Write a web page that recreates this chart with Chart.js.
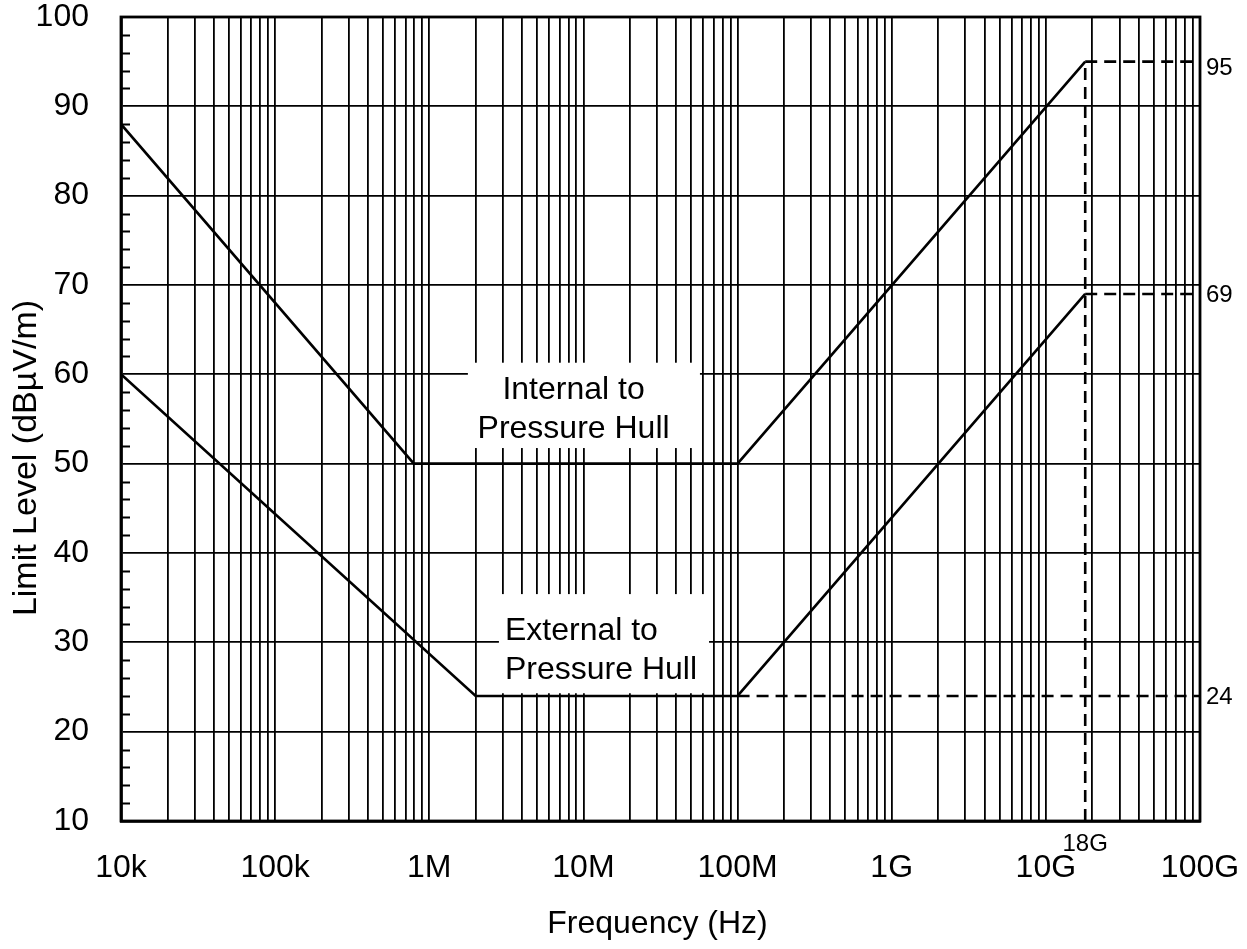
<!DOCTYPE html>
<html>
<head>
<meta charset="utf-8">
<script src="https://cdn.jsdelivr.net/npm/chart.js@4.4.1/dist/chart.umd.min.js"></script>
<style>
html, body { margin: 0; padding: 0; background: #fff; }
#wrap { width: 1247px; height: 949px; }
</style>
</head>
<body>
<div id="wrap"><canvas id="chart" width="1247" height="949"></canvas></div>
<script>
const FONT = "'Liberation Sans', Arial, Helvetica, sans-serif";

// x axis (log): decades, their labels, and the minor grid multipliers
const xDecades = [1e4, 1e5, 1e6, 1e7, 1e8, 1e9, 1e10, 1e11];
const xDecadeLabels = ['10k', '100k', '1M', '10M', '100M', '1G', '10G', '100G'];
const xMultipliers = [1, 2, 3, 4, 5, 6, 7, 8, 9];

// y axis
const yMajorTicks = [10, 20, 30, 40, 50, 60, 70, 80, 90, 100];
const yMinorTicks = [12, 14, 16, 18, 22, 24, 26, 28, 32, 34, 36, 38, 42, 44, 46, 48,
  52, 54, 56, 58, 62, 64, 66, 68, 72, 74, 76, 78, 82, 84, 86, 88, 92, 94, 96, 98];

// limit curves
const internalFreq = [1e4, 7.94e5, 1e8, 1.8e10];
const internalLevel = [88, 50, 50, 95];
const externalFreq = [1e4, 2e6, 1e8, 1.8e10];
const externalLevel = [60, 24, 24, 69];

// dashed reference lines
const ref95Freq = [1.8e10, 1e11];
const ref95Level = [95, 95];
const ref69Freq = [1.8e10, 1e11];
const ref69Level = [69, 69];
const ref24Freq = [1e8, 1e11];
const ref24Level = [24, 24];
const ref18GFreq = [1.8e10, 1.8e10];
const ref18GLevel = [10, 95];

// labels at the right edge and under the axis
const rightLabels = [95, 69, 24];
const markFreq = 1.8e10;
const markLabel = '18G';

const zip = (xs, ys) => xs.map((x, i) => ({ x, y: ys[i] }));

const solid = (data) => ({
  data, borderColor: '#000', borderWidth: 2.6, pointRadius: 0, showLine: true, fill: false
});
const dashed = (data) => ({
  data, borderColor: '#000', borderWidth: 2.6, borderDash: [12, 7], pointRadius: 0, showLine: true, fill: false
});

const annotations = {
  id: 'annotations',
  beforeDatasetsDraw(chart) {
    const { ctx, scales: { x, y } } = chart;
    ctx.save();
    // white boxes behind the curve names
    ctx.fillStyle = '#fff';
    const box = (f1, f2, l1, l2) => {
      const x1 = x.getPixelForValue(f1), x2 = x.getPixelForValue(f2);
      const y1 = y.getPixelForValue(l1), y2 = y.getPixelForValue(l2);
      ctx.fillRect(x1, y1, x2 - x1, y2 - y1);
    };
    box(1.78e6, 5.7e7, 61.3, 51.75);
    box(2.83e6, 6.53e7, 35.4, 24.3);

    ctx.fillStyle = '#000';
    ctx.font = '32px ' + FONT;
    ctx.textBaseline = 'alphabetic';
    ctx.textAlign = 'center';
    const cx = x.getPixelForValue(8.63e6);
    ctx.fillText('Internal to', cx, y.getPixelForValue(58.5) + 11.5);
    ctx.fillText('Pressure Hull', cx, y.getPixelForValue(54.2) + 11.5);
    ctx.textAlign = 'left';
    const lx = x.getPixelForValue(3.19e6) - 2;
    ctx.fillText('External to', lx, y.getPixelForValue(31.5) + 11.5);
    ctx.fillText('Pressure Hull', lx, y.getPixelForValue(27.2) + 11.5);
    ctx.restore();
  },
  afterDraw(chart) {
    const { ctx, chartArea: a, scales: { x, y } } = chart;
    ctx.save();
    // outer frame
    ctx.strokeStyle = '#000';
    ctx.lineWidth = 2.8;
    ctx.strokeRect(a.left, a.top, a.right - a.left, a.bottom - a.top);
    // inward minor ticks on the left axis
    ctx.lineWidth = 1.8;
    ctx.beginPath();
    yMinorTicks.forEach(v => {
      const py = Math.round(y.getPixelForValue(v)) + 0.5;
      ctx.moveTo(a.left, py);
      ctx.lineTo(a.left + 9, py);
    });
    ctx.stroke();
    // values at right edge
    ctx.fillStyle = '#000';
    ctx.font = '24px ' + FONT;
    ctx.textAlign = 'left';
    ctx.textBaseline = 'alphabetic';
    rightLabels.forEach(v => {
      const off = v === 95 ? 5 : 0;
      ctx.fillText(String(v), a.right + 6, y.getPixelForValue(v) + off + 8.5);
    });
    ctx.textAlign = 'center';
    ctx.fillText(markLabel, x.getPixelForValue(markFreq), a.bottom + 30);
    // axis titles
    ctx.font = '32px ' + FONT;
    ctx.fillText('Frequency (Hz)', (a.left + a.right) / 2 - 3, 933);
    ctx.font = '34px ' + FONT;
    ctx.translate(36, 458);
    ctx.rotate(-Math.PI / 2);
    ctx.fillText('Limit Level (dB\u00B5V/m)', 0, 0);
    ctx.restore();
  }
};

new Chart(document.getElementById('chart'), {
  type: 'scatter',
  data: {
    datasets: [
      solid(zip(internalFreq, internalLevel)),
      solid(zip(externalFreq, externalLevel)),
      dashed(zip(ref95Freq, ref95Level)),
      dashed(zip(ref69Freq, ref69Level)),
      dashed(zip(ref24Freq, ref24Level)),
      dashed(zip(ref18GFreq, ref18GLevel))
    ]
  },
  options: {
    responsive: false,
    animation: false,
    layout: { padding: { left: 0, right: 47, top: 17, bottom: 0 } },
    plugins: { legend: { display: false }, tooltip: { enabled: false } },
    scales: {
      x: {
        type: 'logarithmic',
        min: 1e4,
        max: 1e11,
        afterFit: (s) => { s.height = 128; s.paddingLeft = 0; s.paddingRight = 0; },
        afterBuildTicks: (s) => {
          const ticks = [];
          xDecades.forEach(d => xMultipliers.forEach(m => {
            const v = d * m;
            if (v <= 1e11) ticks.push({ value: v });
          }));
          s.ticks = ticks;
        },
        ticks: {
          autoSkip: false,
          maxRotation: 0,
          padding: 28,
          color: '#000',
          font: { family: FONT, size: 32 },
          callback: (v) => {
            const i = xDecades.findIndex(d => Math.abs(d - v) / d < 1e-9);
            return i >= 0 ? xDecadeLabels[i] : '';
          }
        },
        grid: { color: '#000', lineWidth: 1.8, drawTicks: false },
        border: { display: true, color: '#000', width: 2.8 }
      },
      y: {
        min: 10,
        max: 100,
        afterFit: (s) => { s.width = 121; s.paddingTop = 0; s.paddingBottom = 0; },
        afterBuildTicks: (s) => { s.ticks = yMajorTicks.map(v => ({ value: v })); },
        ticks: {
          padding: 32,
          color: '#000',
          font: { family: FONT, size: 32 }
        },
        grid: { color: '#000', lineWidth: 1.8, drawTicks: false },
        border: { display: true, color: '#000', width: 2.8 }
      }
    }
  },
  plugins: [annotations]
});
</script>
</body>
</html>
